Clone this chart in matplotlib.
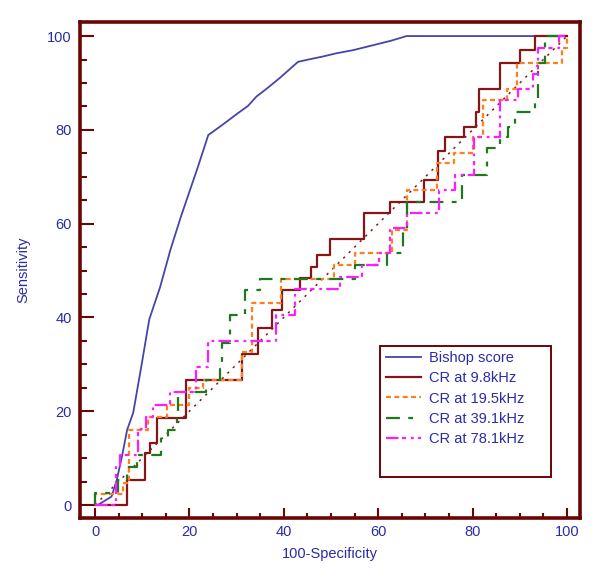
import matplotlib
matplotlib.use("Agg")
import matplotlib.pyplot as plt
from matplotlib.patches import Rectangle

plt.rcParams['font.family'] = ['Liberation Sans', 'DejaVu Sans']
plt.rcParams['lines.scale_dashes'] = False

# ---------------- data ----------------
bishop_x = [0, 0.6, 3.5, 4.6, 5.7, 6.8, 8.1, 9.8, 11.5, 13.8, 16.0, 18.2, 21.8, 24.0, 26.9, 30.2,
            32.4, 34.2, 36.4, 39.3, 43.0, 45.2, 48.1, 51.0, 54.7, 58.3, 62.7, 66.0, 100]
bishop_y = [0, 0, 1.8, 5.3, 10.3, 16.0, 19.7, 29.5, 39.6, 46.5, 54.5, 61.5, 72.1, 78.9, 81.0, 83.5,
            85.1, 87.1, 88.8, 91.2, 94.5, 95.0, 95.6, 96.3, 97.0, 97.9, 99.0, 100, 100]

cr98_x = [0, 6.8, 6.8, 10.5, 10.5, 11.6, 11.6, 13.1, 13.1, 19.3, 19.3, 31.2, 31.2, 34.6, 34.6,
          37.4, 37.4, 39.6, 39.6, 43.4, 43.4, 45.7, 45.7, 47.0, 47.0, 49.8, 49.8, 56.9, 56.9,
          62.4, 62.4, 69.7, 69.7, 72.6, 72.6, 74.2, 74.2, 78.2, 78.2, 80.7, 80.7, 81.4, 81.4,
          85.7, 85.7, 90.0, 90.0, 93.2, 93.2, 100]
cr98_y = [0, 0, 5.3, 5.3, 11.0, 11.0, 13.3, 13.3, 18.5, 18.5, 26.7, 26.7, 32.3, 32.3, 37.7,
          37.7, 41.6, 41.6, 45.8, 45.8, 48.5, 48.5, 50.8, 50.8, 53.3, 53.3, 56.7, 56.7, 62.2,
          62.2, 64.7, 64.7, 69.4, 69.4, 75.5, 75.5, 78.4, 78.4, 80.7, 80.7, 83.9, 83.9, 88.8,
          88.8, 94.2, 94.2, 97.0, 97.0, 100, 100]

cr195_x = [0, 0, 5.9, 5.9, 7.1, 7.1, 11.3, 11.3, 15.3, 15.3, 20.0, 20.0, 22.9, 22.9, 31.1,
           31.1, 33.2, 33.2, 39.3, 39.3, 50.6, 50.6, 55.1, 55.1, 62.9, 62.9, 66.0, 66.0, 72.4,
           72.4, 76.0, 76.0, 80.0, 80.0, 82.1, 82.1, 87.2, 87.2, 89.5, 89.5, 98.9, 98.9, 99.9,
           99.9, 100]
cr195_y = [0, 2.3, 2.3, 4.6, 4.6, 16.1, 16.1, 18.8, 18.8, 21.3, 21.3, 24.9, 24.9, 26.7, 26.7,
           32.7, 32.7, 43.0, 43.0, 48.3, 48.3, 51.2, 51.2, 53.7, 53.7, 58.6, 58.6, 67.2, 67.2,
           72.9, 72.9, 75.0, 75.0, 78.5, 78.5, 86.4, 86.4, 88.8, 88.8, 94.2, 94.2, 97.5, 97.5,
           100, 100]

cr391_x = [0, 0, 4.9, 4.9, 6.8, 6.8, 8.8, 8.8, 14.0, 14.0, 15.5, 15.5, 17.4, 17.4, 17.6, 17.6,
           23.6, 23.6, 26.5, 26.5, 27.0, 27.0, 28.5, 28.5, 31.8, 31.8, 35.0, 35.0, 55.1, 55.1,
           61.8, 61.8, 65.3, 65.3, 66.0, 66.0, 77.7, 77.7, 83.0, 83.0, 85.8, 85.8, 87.6, 87.6,
           89.0, 89.0, 93.2, 93.2, 93.9, 93.9, 95.3, 95.3, 100]
cr391_y = [0, 2.5, 2.5, 5.3, 5.3, 8.2, 8.2, 10.7, 10.7, 14.6, 14.6, 16.0, 16.0, 18.8, 18.8, 24.2,
           24.2, 26.7, 26.7, 29.0, 29.0, 34.5, 34.5, 40.5, 40.5, 45.8, 45.8, 48.3, 48.3, 51.2,
           51.2, 53.7, 53.7, 58.6, 58.6, 64.7, 64.7, 70.4, 70.4, 76.1, 76.1, 78.4, 78.4, 80.7,
           80.7, 83.9, 83.9, 86.4, 86.4, 94.2, 94.2, 100, 100]

cr781_x = [0, 4.4, 4.4, 5.3, 5.3, 9.2, 9.2, 10.9, 10.9, 12.2, 12.2, 15.8, 15.8, 21.5, 21.5,
           24.0, 24.0, 38.3, 38.3, 42.3, 42.3, 51.9, 51.9, 56.5, 56.5, 60.2, 60.2, 62.4, 62.4,
           66.0, 66.0, 72.9, 72.9, 76.3, 76.3, 80.2, 80.2, 85.7, 85.7, 89.7, 89.7, 92.7, 92.7,
           93.9, 93.9, 98.2, 98.2, 100]
cr781_y = [0, 0, 8.0, 8.0, 10.7, 10.7, 16.3, 16.3, 18.8, 18.8, 21.3, 21.3, 24.2, 24.2, 29.5,
           29.5, 35.0, 35.0, 40.5, 40.5, 46.0, 46.0, 48.7, 48.7, 51.2, 51.2, 53.7, 53.7, 59.0,
           59.0, 62.2, 62.2, 67.2, 67.2, 70.4, 70.4, 78.4, 78.4, 86.4, 86.4, 88.8, 88.8, 92.0,
           92.0, 97.5, 97.5, 100, 100]

diag_x = [0, 100]
diag_y = [0, 100]

labels = ["Bishop score", "CR at 9.8kHz", "CR at 19.5kHz", "CR at 39.1kHz", "CR at 78.1kHz"]
xticks = [0, 20, 40, 60, 80, 100]
yticks = [0, 20, 40, 60, 80, 100]

# ---------------- style ----------------
frame_c = '#6a0606'
text_c = '#2b2ba8'
blue_c = '#4545aa'
maroon_c = '#861616'
orange_c = '#ff7f1e'
green_c = '#1c7a1c'
magenta_c = '#ff1cff'

fig = plt.figure(figsize=(6.0, 5.79), dpi=100)
ax = fig.add_axes([80/600, 61/579, 500/600, 496/579])

ax.plot(diag_x, diag_y, color=maroon_c, lw=1.1, dashes=(1.6, 4.0), zorder=1)
ax.plot(bishop_x, bishop_y, color=blue_c, lw=1.3, label=labels[0], zorder=2)
ax.plot(cr98_x, cr98_y, color=maroon_c, lw=1.6, label=labels[1], zorder=3)
ax.plot(cr195_x, cr195_y, color=orange_c, lw=1.6, dashes=(3.6, 2.4), label=labels[2], zorder=4)
ax.plot(cr391_x, cr391_y, color=green_c, lw=1.6, dashes=(10, 6, 3.5, 6), label=labels[3], zorder=5)
ax.plot(cr781_x, cr781_y, color=magenta_c, lw=1.6, dashes=(9, 2.5, 3, 3.5, 2, 3), label=labels[4], zorder=6)

ax.set_xlim(-3.18, 102.75)
ax.set_ylim(-2.77, 103.0)

ax.set_xticks(xticks)
ax.set_yticks(yticks)
ax.set_xticks(list(range(0, 101, 5)), minor=True)
ax.set_yticks(list(range(0, 101, 5)), minor=True)

for s in ax.spines.values():
    s.set_color(frame_c)
    s.set_linewidth(2.6)

ax.tick_params(axis='both', which='both', direction='in', color=frame_c, width=1.5,
               labelcolor=text_c, labelsize=10.5)
ax.tick_params(axis='y', which='major', length=10, pad=6)
ax.tick_params(axis='y', which='minor', length=5)
ax.tick_params(axis='x', which='major', length=7, pad=5)
ax.tick_params(axis='x', which='minor', length=3.6)

ax.set_xlabel("100-Specificity", color=text_c, fontsize=10.5, labelpad=6)
ax.set_ylabel("Sensitivity", color=text_c, fontsize=10.5, labelpad=12)

# legend box
ax.add_patch(Rectangle((0.600, 0.0827), 0.342, 0.264, transform=ax.transAxes,
                       fill=True, facecolor='white', edgecolor=frame_c, lw=1.4, zorder=10))
leg = ax.legend(loc='upper left', bbox_to_anchor=(0.612, 0.336), frameon=False,
                fontsize=10.5, handlelength=2.4, handletextpad=0.55, labelspacing=0.42,
                borderpad=0, borderaxespad=0)
leg.set_zorder(11)
for t in leg.get_texts():
    t.set_color(text_c)

fig.savefig("out.png", dpi=100)
